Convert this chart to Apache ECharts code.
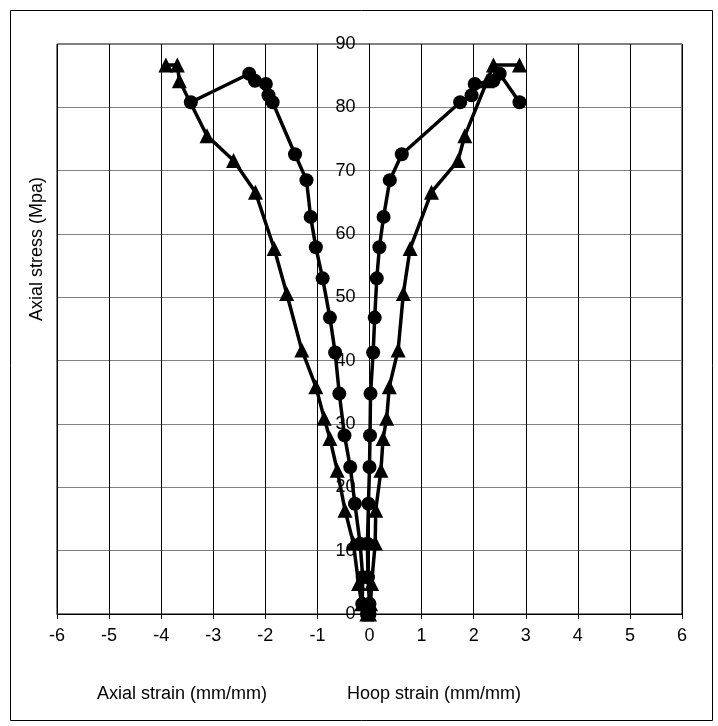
<!DOCTYPE html>
<html>
<head>
<meta charset="utf-8">
<script src="https://cdn.jsdelivr.net/npm/echarts@6/dist/echarts.min.js"></script>
<style>
html,body{margin:0;padding:0;background:#fff;}
#main{width:718px;height:726px;}
</style>
</head>
<body>
<div id="main"></div>
<script>
// stress levels (MPa), shared by the axial and hoop readings of each specimen
var circleStress = [0, 1.6, 5.8, 11.1, 17.4, 23.2, 28.2, 34.8, 41.3, 46.8, 53.0, 57.9, 62.7, 68.5, 72.6, 80.8, 81.9, 83.7, 84.2, 85.3, 80.8];
var circleAxial  = [-0.05, -0.14, -0.13, -0.18, -0.28, -0.37, -0.48, -0.58, -0.66, -0.76, -0.90, -1.03, -1.13, -1.21, -1.43, -1.86, -1.94, -1.99, -2.20, -2.31, -3.43];
var circleHoop   = [0.0, 0.0, -0.03, -0.04, -0.02, 0.0, 0.01, 0.02, 0.07, 0.10, 0.14, 0.19, 0.27, 0.39, 0.62, 1.74, 1.96, 2.02, 2.38, 2.50, 2.88];

var triStress = [0, 1.6, 4.8, 11.2, 16.4, 22.7, 27.7, 30.9, 35.9, 41.7, 50.6, 57.7, 66.6, 71.6, 75.5, 84.2, 86.7, 86.7];
var triAxial  = [-0.05, -0.15, -0.21, -0.31, -0.47, -0.62, -0.76, -0.87, -1.03, -1.30, -1.59, -1.83, -2.19, -2.61, -3.12, -3.65, -3.69, -3.91];
var triHoop   = [0.0, 0.02, 0.04, 0.11, 0.12, 0.22, 0.26, 0.33, 0.38, 0.55, 0.65, 0.78, 1.19, 1.70, 1.83, 2.26, 2.38, 2.88];

var xTicks = [-6, 6, 1];
var yTicks = [0, 90, 10];

function pairs(xs, ys){
	var out = [];
	for (var i = 0; i < xs.length; i++) out.push([xs[i], ys[i]]);
	return out;
}

var font = 'Liberation Sans, Arial, sans-serif';

function line(name, xs, ys, sym){
	return {
		name: name,
		type: 'line',
		data: pairs(xs, ys),
		symbol: sym,
		symbolSize: sym == 'circle' ? 14 : 15,
		showSymbol: true,
		lineStyle: {color: '#000', width: 3.5},
		itemStyle: {color: '#000'},
		animation: false
	};
}

var gridLeft = 57, gridRight = 36;
var plotW = 718 - gridLeft - gridRight;
// y axis sits on strain = 0, so shift it right from the left edge of the plot
var yShift = plotW * (0 - xTicks[0]) / (xTicks[1] - xTicks[0]);

var myChart = echarts.init(document.getElementById('main'));
var option = {
	backgroundColor: '#fff',
	animation: false,
	grid: {left: gridLeft, right: gridRight, top: 44, bottom: 112, show: true, borderColor: '#000', borderWidth: 1},
	xAxis: {
		type: 'value',
		min: xTicks[0], max: xTicks[1], interval: xTicks[2],
		axisLine: {onZero: false, lineStyle: {color: '#000', width: 1}},
		axisTick: {show: true, inside: false, length: 5, lineStyle: {color: '#000'}},
		axisLabel: {color: '#000', fontSize: 18, fontFamily: font, margin: 13},
		splitLine: {show: true, lineStyle: {color: '#000', width: 1}}
	},
	yAxis: {
		type: 'value',
		position: 'left',
		offset: -yShift,
		min: yTicks[0], max: yTicks[1], interval: yTicks[2],
		axisLine: {show: true, onZero: false, lineStyle: {color: '#000', width: 1}},
		axisTick: {show: false},
		axisLabel: {color: '#000', fontSize: 18, fontFamily: font, margin: 14},
		splitLine: {show: true, lineStyle: {color: '#808080', width: 1}}
	},
	graphic: [
		{type: 'rect', left: 8, top: 8, shape: {width: 702, height: 710}, style: {fill: 'none', stroke: '#000', lineWidth: 1}, silent: true},
		{type: 'text', x: 37, y: 249, rotation: Math.PI / 2, style: {text: 'Axial stress (Mpa)', fill: '#000', font: '18px ' + font, textAlign: 'center', textVerticalAlign: 'middle'}},
		{type: 'text', x: 182, y: 694, style: {text: 'Axial strain (mm/mm)', fill: '#000', font: '18px ' + font, textAlign: 'center', textVerticalAlign: 'middle'}},
		{type: 'text', x: 434, y: 694, style: {text: 'Hoop strain (mm/mm)', fill: '#000', font: '18px ' + font, textAlign: 'center', textVerticalAlign: 'middle'}}
	],
	series: [
		line('circle axial', circleAxial, circleStress, 'circle'),
		line('circle hoop', circleHoop, circleStress, 'circle'),
		line('triangle axial', triAxial, triStress, 'triangle'),
		line('triangle hoop', triHoop, triStress, 'triangle')
	]
};
myChart.setOption(option);
</script>
</body>
</html>
